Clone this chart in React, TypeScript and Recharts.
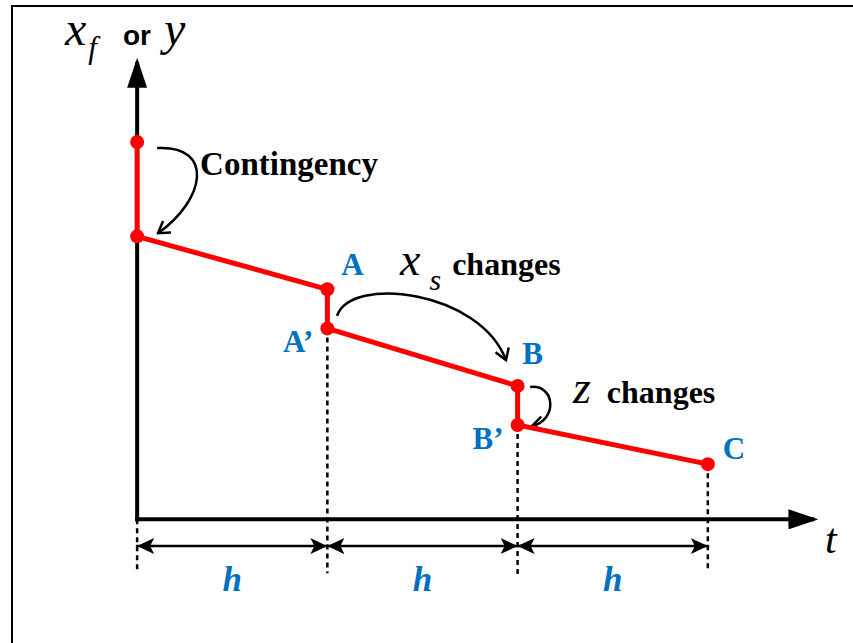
import React from 'react';
import { LineChart, Line, XAxis, YAxis, ReferenceLine, ReferenceDot, LabelList } from 'recharts';

document.body.style.margin = '0';

const RED = '#FF0000';
const BLUE = '#0070C0';
const SERIF = '"Liberation Serif", "Times New Roman", serif';
const SANS = '"Liberation Sans", Arial, sans-serif';

// x_f (or y) over time: a drop at each event, then a straight decline over one step h
const stepT = [0, 0, 1, 1, 2, 2, 3];
const levelV = [8.2, 6.15, 5.0, 4.15, 2.9, 2.05, 1.2];
const pointNames = ['', '', 'A', 'A’', 'B', 'B’', 'C'];

// step boundaries on the t axis and the dotted guides dropped from them
const boundaryT = [0, 1, 2, 3];
const guideTop = [0, 4.15, 2.05, 1.2];
const guideBottom = [-1.1, -1.17, -1.25, -1.06];
const stepLabels = ['h', 'h', 'h'];

const data = stepT.map((t, i) => ({ t, v: levelV[i], name: pointNames[i] }));

const T_AXIS_END = 3.55;
const V_AXIS_END = 9.9;
const DIM_V = -0.58;
const STEP_LABEL_V = -1.55;

// curved "event" arrows: start/end in chart units, control handles in px
const bends = [
  { from: { x: 0.105, y: 8.07 }, to: { x: 0.11, y: 6.22 }, c1: [58, -3], c2: [47, -33] },
  { from: { x: 1.051, y: 4.42 }, to: { x: 1.939, y: 3.46 }, c1: [13, -41], c2: [-26, -70] },
  { from: { x: 2.066, y: 2.876 }, to: { x: 2.076, y: 2.03 }, c1: [25, -3], c2: [26, -6] },
];

const nameStyle: Record<string, { dx: number; dy: number; anchor: 'start' | 'middle' | 'end' }> = {
  'A': { dx: 25, dy: -14, anchor: 'middle' },
  'A’': { dx: -14, dy: 24, anchor: 'end' },
  'B': { dx: 15, dy: -22, anchor: 'middle' },
  'B’': { dx: -14, dy: 24, anchor: 'end' },
  'C': { dx: 26, dy: -5, anchor: 'middle' },
};

const arrowLine = (width: number, opts: { start?: string; end?: string; dash?: string } = {}) => (p: any) => (
  <line
    x1={p.x1}
    y1={p.y1}
    x2={p.x2}
    y2={p.y2}
    stroke="#000"
    strokeWidth={width}
    strokeDasharray={opts.dash}
    strokeLinecap={opts.dash ? 'butt' : 'square'}
    markerStart={opts.start ? `url(#${opts.start})` : undefined}
    markerEnd={opts.end ? `url(#${opts.end})` : undefined}
  />
);

const bendShape = (c1: number[], c2: number[]) => (p: any) => (
  <path
    d={`M${p.x1},${p.y1} C${p.x1 + c1[0]},${p.y1 + c1[1]} ${p.x2 + c2[0]},${p.y2 + c2[1]} ${p.x2},${p.y2}`}
    fill="none"
    stroke="#000"
    strokeWidth={2.5}
    markerEnd="url(#bendHead)"
  />
);

const note = (render: (x: number, y: number) => React.ReactNode) => (p: any) => <g>{render(p.cx, p.cy)}</g>;

export default function App() {
  return (
    <div style={{ position: 'relative', width: 853, height: 643, background: '#fff', overflow: 'hidden' }}>
      <svg width={0} height={0} style={{ position: 'absolute' }}>
        <defs>
          <marker id="axisHead" viewBox="0 0 30 20" markerWidth={30} markerHeight={20} refX={24} refY={10} orient="auto" markerUnits="userSpaceOnUse">
            <path d="M0,0 L30,10 L0,20 Z" fill="#000" />
          </marker>
          <marker id="dimHead" viewBox="0 0 17 16" markerWidth={17} markerHeight={16} refX={17} refY={8} orient="auto-start-reverse" markerUnits="userSpaceOnUse">
            <path d="M0,0 L17,8 L0,16 L4,8 Z" fill="#000" />
          </marker>
          <marker id="bendHead" viewBox="0 0 14 16" markerWidth={14} markerHeight={16} refX={12} refY={8} orient="auto" markerUnits="userSpaceOnUse">
            <path d="M1,1 L12,8 L1,15" fill="none" stroke="#000" strokeWidth={2.5} />
          </marker>
        </defs>
      </svg>
      <div
        style={{
          position: 'absolute',
          left: 11,
          top: 5,
          right: -10,
          bottom: -10,
          borderTop: '2px solid #000',
          borderLeft: '2px solid #000',
        }}
      />
      <LineChart width={853} height={643} data={data} margin={{ top: 4, right: 12, bottom: 4, left: 23 }}>
        <XAxis type="number" dataKey="t" domain={[-0.6, 3.7]} hide />
        <YAxis type="number" dataKey="v" domain={[-2.6, 11.2]} hide />

        {boundaryT.map((t, i) => (
          <ReferenceLine
            key={`guide-${i}`}
            segment={[{ x: t, y: guideTop[i] }, { x: t, y: guideBottom[i] }]}
            shape={arrowLine(2.5, { dash: '5 4' })}
          />
        ))}

        {/* axes */}
        <ReferenceLine segment={[{ x: 0, y: 0 }, { x: T_AXIS_END, y: 0 }]} shape={arrowLine(4, { end: 'axisHead' })} />
        <ReferenceLine segment={[{ x: 0, y: 0 }, { x: 0, y: V_AXIS_END }]} shape={arrowLine(4, { end: 'axisHead' })} />

        {/* step-width dimension arrows */}
        {stepLabels.map((_, i) => (
          <ReferenceLine
            key={`dim-${i}`}
            segment={[{ x: boundaryT[i], y: DIM_V }, { x: boundaryT[i + 1], y: DIM_V }]}
            shape={arrowLine(2.5, { start: 'dimHead', end: 'dimHead' })}
          />
        ))}

        {bends.map((b, i) => (
          <ReferenceLine key={`bend-${i}`} segment={[b.from, b.to]} shape={bendShape(b.c1, b.c2)} />
        ))}

        <Line
          type="linear"
          dataKey="v"
          stroke={RED}
          strokeWidth={5}
          dot={{ r: 7, fill: RED, stroke: RED, strokeWidth: 0 }}
          activeDot={false}
          isAnimationActive={false}
        >
          <LabelList
            dataKey="name"
            content={(p: any) => {
              const o = nameStyle[p.value];
              if (!o) return null;
              return (
                <text
                  x={p.x + o.dx}
                  y={p.y + o.dy}
                  textAnchor={o.anchor}
                  fill={BLUE}
                  fontFamily={SERIF}
                  fontWeight="bold"
                  fontSize={31}
                >
                  {p.value}
                </text>
              );
            }}
          />
        </Line>

        {stepLabels.map((s, i) => (
          <ReferenceDot
            key={`h-${i}`}
            x={(boundaryT[i] + boundaryT[i + 1]) / 2}
            y={STEP_LABEL_V}
            r={0}
            shape={note((x, y) => (
              <text x={x} y={y} textAnchor="middle" fill={BLUE} fontFamily={SERIF} fontWeight="bold" fontStyle="italic" fontSize={35}>
                {s}
              </text>
            ))}
          />
        ))}

        {/* axis titles */}
        <ReferenceDot
          x={-0.379}
          y={10.31}
          r={0}
          shape={note((x, y) => (
            <text x={x} y={y} fill="#000">
              <tspan fontFamily={SERIF} fontStyle="italic" fontSize={48}>x</tspan>
              <tspan fontFamily={SERIF} fontStyle="italic" fontSize={31} dx={2} dy={13}>f</tspan>
              <tspan fontFamily={SANS} fontWeight="bold" fontSize={28} dx={26} dy={-13}>or</tspan>
              <tspan fontFamily={SERIF} fontStyle="italic" fontSize={48} dx={13}>y</tspan>
            </text>
          ))}
        />
        <ReferenceDot
          x={3.616}
          y={-0.73}
          r={0}
          shape={note((x, y) => (
            <text x={x} y={y} fill="#000" fontFamily={SERIF} fontStyle="italic" fontSize={42}>t</text>
          ))}
        />

        {/* event annotations */}
        <ReferenceDot
          x={0.331}
          y={7.48}
          r={0}
          shape={note((x, y) => (
            <text x={x} y={y} fill="#000" fontFamily={SERIF} fontWeight="bold" fontSize={33}>Contingency</text>
          ))}
        />
        <ReferenceDot
          x={1.382}
          y={5.31}
          r={0}
          shape={note((x, y) => (
            <text x={x} y={y} fill="#000" fontFamily={SERIF}>
              <tspan fontStyle="italic" fontSize={46}>x</tspan>
              <tspan fontStyle="italic" fontSize={30} dx={9} dy={15}>s</tspan>
              <tspan fontWeight="bold" fontSize={32} dx={11} dy={-15}>changes</tspan>
            </text>
          ))}
        />
        <ReferenceDot
          x={2.291}
          y={2.52}
          r={0}
          shape={note((x, y) => (
            <text x={x} y={y} fill="#000" fontFamily={SERIF}>
              <tspan fontStyle="italic" fontSize={46}>z</tspan>
              <tspan fontWeight="bold" fontSize={32} dx={16}>changes</tspan>
            </text>
          ))}
        />
      </LineChart>
    </div>
  );
}
